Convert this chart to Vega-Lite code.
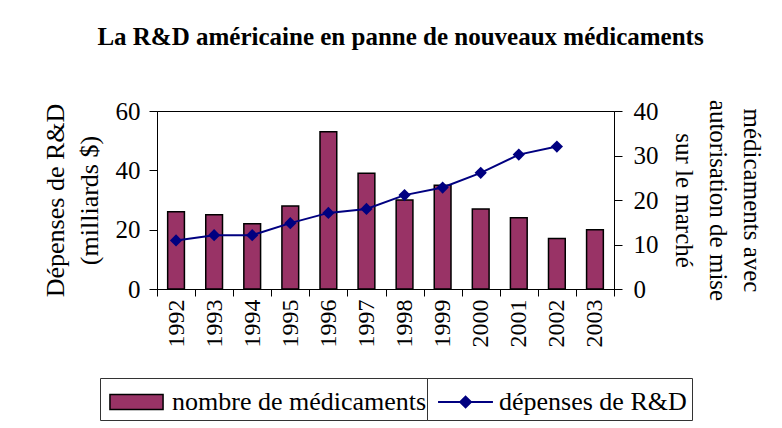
{
  "$schema": "https://vega.github.io/schema/vega-lite/v6.json",
  "width": 457,
  "height": 178,
  "autosize": {"type": "none"},
  "padding": {"left": 157, "top": 111, "right": 168, "bottom": 139},
  "background": "white",
  "config": {
    "font": "Liberation Serif",
    "view": {"stroke": "black", "strokeWidth": 1},
    "axis": {
      "grid": false,
      "domainColor": "black",
      "tickColor": "black",
      "labelColor": "black",
      "titleColor": "black",
      "labelFont": "Liberation Serif",
      "titleFont": "Liberation Serif",
      "titleFontWeight": "normal"
    },
    "legend": {
      "orient": "none",
      "direction": "horizontal",
      "labelFontSize": 26,
      "labelFont": "Liberation Serif",
      "labelColor": "black",
      "labelLimit": 400,
      "symbolSize": 1296,
      "labelOffset": 29,
      "padding": 5,
      "strokeColor": "#333333",
      "fillColor": "white"
    }
  },
  "title": {
    "text": "La R&D américaine en panne de nouveaux médicaments",
    "font": "Liberation Serif",
    "fontSize": 25,
    "fontWeight": "bold",
    "color": "black",
    "offset": 49,
    "dx": 15
  },
  "data": {
    "values": [
      {"year": "1992", "count": 26, "spending": 10.9},
      {"year": "1993", "count": 25, "spending": 12.1},
      {"year": "1994", "count": 22, "spending": 12.1},
      {"year": "1995", "count": 28, "spending": 14.8},
      {"year": "1996", "count": 53, "spending": 17.1},
      {"year": "1997", "count": 39, "spending": 18.0},
      {"year": "1998", "count": 30, "spending": 21.1},
      {"year": "1999", "count": 35, "spending": 22.8},
      {"year": "2000", "count": 27, "spending": 26.1},
      {"year": "2001", "count": 24, "spending": 30.2},
      {"year": "2002", "count": 17, "spending": 32.0},
      {"year": "2003", "count": 20, "spending": null}
    ]
  },
  "encoding": {
    "x": {
      "field": "year",
      "type": "ordinal",
      "scale": {"paddingInner": 0, "paddingOuter": 0},
      "axis": {
        "title": null,
        "labelAngle": -90,
        "labelFontSize": 24,
        "tickSize": 7,
        "labelPadding": 3,
        "tickBand": "extent"
      }
    }
  },
  "layer": [
    {
      "mark": {"type": "bar", "stroke": "black", "strokeWidth": 1.5, "width": {"band": 0.44}},
      "encoding": {
        "y": {
          "field": "count",
          "type": "quantitative",
          "scale": {"domain": [0, 60]},
          "axis": {
            "values": [0, 20, 40, 60],
            "title": ["Dépenses de R&D", "(milliards $)"],
            "labelFontSize": 25,
            "tickSize": 8,
            "labelPadding": 9,
            "titleFontSize": 26,
            "titlePadding": 13,
            "titleLineHeight": 34
          }
        },
        "color": {
          "datum": "nombre de médicaments",
          "type": "nominal",
          "scale": {"domain": ["nombre de médicaments"], "range": ["#993366"]},
          "legend": {
            "title": null,
            "legendX": -57,
            "legendY": 267,
            "symbolType": "M-0.78,-0.42H2.17V0.42H-0.78Z",
            "symbolStrokeColor": "black",
            "symbolStrokeWidth": 1.5,
            "symbolOpacity": 1
          }
        }
      }
    },
    {
      "mark": {
        "type": "line",
        "strokeWidth": 2,
        "point": {"shape": "diamond", "size": 150, "filled": true, "color": "#000080", "opacity": 1}
      },
      "encoding": {
        "y": {
          "field": "spending",
          "type": "quantitative",
          "scale": {"domain": [0, 40]},
          "axis": {
            "orient": "right",
            "values": [0, 10, 20, 30, 40],
            "title": ["médicaments avec", "autorisation de mise", "sur le marché"],
            "labelFontSize": 25,
            "tickSize": 8,
            "labelPadding": 11,
            "titleFontSize": 25,
            "titlePadding": 12,
            "titleLineHeight": 34
          }
        },
        "color": {
          "datum": "dépenses de R&D",
          "type": "nominal",
          "scale": {"domain": ["dépenses de R&D"], "range": ["#000080"]},
          "legend": {
            "title": null,
            "legendX": 270,
            "legendY": 267,
            "symbolType": "M-0.72,0H2.33M0.81,-0.3L1.11,0L0.81,0.3L0.51,0Z",
            "symbolFillColor": "#000080",
            "symbolStrokeColor": "#000080",
            "symbolStrokeWidth": 2,
            "symbolOpacity": 1
          }
        }
      }
    }
  ],
  "resolve": {
    "scale": {"y": "independent", "color": "independent"},
    "legend": {"color": "independent"}
  }
}
